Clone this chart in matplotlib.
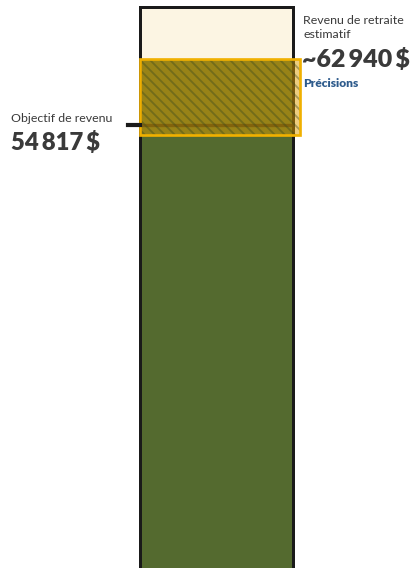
import matplotlib
matplotlib.use('Agg')
import matplotlib.pyplot as plt
from matplotlib.patches import Rectangle

# values
estimate = 62940
objective = 54817
range_low = 53500
scale_max = 69400      # top of the bar frame
estimate_label = '~62\u2009940\u2009$'
objective_label = '54\u2009817\u2009$'

W, H, DPI = 417, 568, 120
GREEN = '#546a2f'
CREAM = '#fcf5e3'
ORANGE = '#dc9c00'
EDGE = '#f0b000'
HATCH = '#3a4a1e'
TEXT = '#3a3a3a'
BLUE = '#2e5b8c'

plt.rcParams['font.family'] = ['Lato', 'DejaVu Sans']
plt.rcParams['hatch.linewidth'] = 1.1

fig = plt.figure(figsize=(W / DPI, H / DPI), dpi=DPI)
fig.patch.set_facecolor('white')

# axes covers the bar column, full figure height
ax = fig.add_axes([140 / W, 0, 153 / W, 1])
ax.set_xlim(-0.5, 0.5)
ax.set_ylim(0, H / (509 / estimate))
ax.axis('off')

# background of the bar, then the estimated income
ax.bar(0, scale_max, width=1, color=CREAM, zorder=1)
ax.bar(0, estimate, width=1, color=GREEN, zorder=2)

# objective line across the bar + tick on the left
ax.plot([-0.5, 0.5], [objective, objective], color='#2a2a1a', lw=2.0, zorder=3)
ax.plot([-0.58, -0.5], [objective, objective], color='#1a1a1a', lw=2.5,
        clip_on=False, zorder=6)

# uncertainty box (orange, semi transparent, hatched)
box_w = 160 / 153
ax.add_patch(Rectangle((-0.5, range_low), box_w, estimate - range_low,
                       facecolor=ORANGE, alpha=0.5, edgecolor='none',
                       clip_on=False, zorder=4))
ax.add_patch(Rectangle((-0.5, range_low), box_w, estimate - range_low,
                       facecolor='none', edgecolor=HATCH, hatch='\\\\\\\\',
                       lw=0, alpha=0.4, clip_on=False, zorder=4.5))
ax.add_patch(Rectangle((-0.5, range_low), box_w, estimate - range_low,
                       facecolor='none', edgecolor=EDGE, lw=1.6,
                       clip_on=False, zorder=5))

# frame of the bar (left, top, right)
ax.plot([-0.5, -0.5, 0.5, 0.5], [0, scale_max, scale_max, 0],
        color='#1a1a1a', lw=1.8, solid_joinstyle='miter', clip_on=False, zorder=3.5)


def px(x, y):
    return x / W, 1 - y / H


fig.text(*px(303, 24), 'Revenu de retraite', fontsize=7.4, color=TEXT, va='baseline')
fig.text(*px(303, 38), 'estimatif', fontsize=7.4, color=TEXT, va='baseline')
fig.text(*px(302, 67), estimate_label, fontsize=15, fontweight='heavy',
         color=TEXT, va='baseline')
fig.text(*px(303, 87), 'Précisions', fontsize=7.2, fontweight='heavy',
         color=BLUE, va='baseline')

fig.text(*px(11, 122), 'Objectif de revenu', fontsize=7.4, color=TEXT, va='baseline')
fig.text(*px(11, 150), objective_label, fontsize=14.3, fontweight='heavy',
         color=TEXT, va='baseline')

fig.savefig('out.png', dpi=DPI)
